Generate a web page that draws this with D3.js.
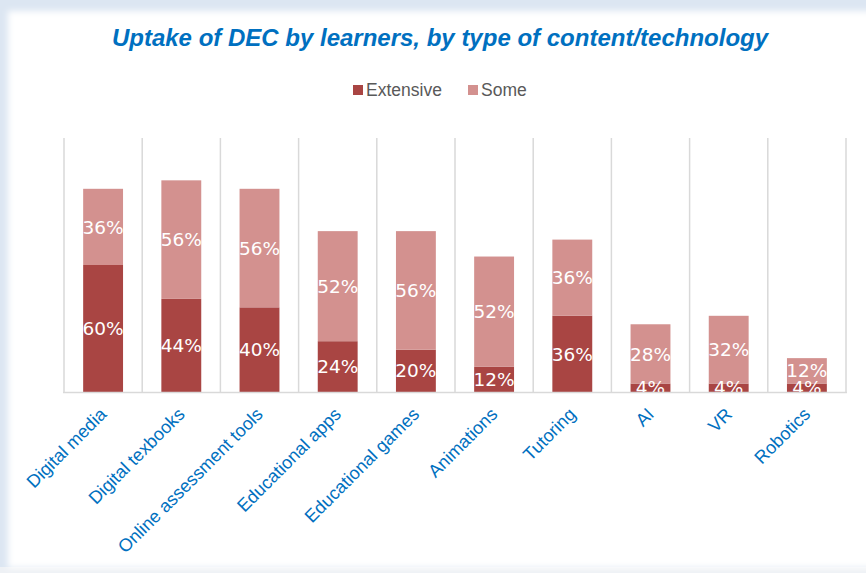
<!DOCTYPE html>
<html>
<head>
<meta charset="utf-8">
<script src="https://cdn.jsdelivr.net/npm/d3@7"></script>
<style>
  html, body { margin: 0; padding: 0; background: #dce6f2; }
  svg { display: block; }
</style>
</head>
<body>
<svg id="chart" width="866" height="573"></svg>
<script>
// Categories and shares of learners (%)
const categories = ["Digital media", "Digital texbooks", "Online assessment tools", "Educational apps",
  "Educational games", "Animations", "Tutoring", "AI", "VR", "Robotics"];
const extensive = [60, 44, 40, 24, 20, 12, 36, 4, 4, 4];
const some = [36, 56, 56, 52, 56, 52, 36, 28, 32, 12];
const seriesNames = ["Extensive", "Some"];
const seriesColors = ["#a94543", "#d3918f"];

const W = 866, H = 573;
const svg = d3.select("#chart");
const defs = svg.append("defs");

// Card background with soft edges
defs.append("filter").attr("id", "soft").attr("x", "-5%").attr("y", "-5%").attr("width", "110%").attr("height", "110%")
  .append("feGaussianBlur").attr("stdDeviation", 3);
svg.append("rect").attr("width", W).attr("height", H).attr("fill", "#dce6f2");
svg.append("rect").attr("x", 0).attr("y", H - 6).attr("width", W).attr("height", 6).attr("fill", "#eef1f5");
svg.append("rect").attr("x", 8).attr("y", 11).attr("width", W + 20).attr("height", H - 16)
  .attr("fill", "#ffffff").attr("filter", "url(#soft)");

const plot = { left: 64, right: 846, top: 138, bottom: 392 };

const x = d3.scaleBand().domain(categories).range([plot.left, plot.right]).paddingInner(0).paddingOuter(0);
const y = d3.scaleLinear().domain([0, 120]).range([plot.bottom, plot.top]);

// Title
svg.append("text")
  .attr("x", 440).attr("y", 46)
  .attr("text-anchor", "middle")
  .style("font-family", "'Liberation Sans', Arial, sans-serif")
  .style("font-size", "24px").style("font-weight", "bold").style("font-style", "italic")
  .attr("fill", "#0070c0")
  .text("Uptake of DEC by learners, by type of content/technology");

// Legend
const legendItems = [
  { name: seriesNames[0], color: seriesColors[0], x: 353 },
  { name: seriesNames[1], color: seriesColors[1], x: 468 }
];
const lg = svg.append("g").selectAll("g").data(legendItems).join("g")
  .attr("transform", d => `translate(${d.x},85)`);
lg.append("rect").attr("width", 10).attr("height", 10).attr("fill", d => d.color);
lg.append("text").attr("x", 13).attr("y", 11)
  .style("font-family", "'Liberation Sans', Arial, sans-serif").style("font-size", "17.5px")
  .attr("fill", "#595959").text(d => d.name);

// Vertical gridlines at category boundaries
const bounds = categories.map(c => x(c)).concat([plot.right]);
svg.append("g").selectAll("line").data(bounds).join("line")
  .attr("x1", d => d).attr("x2", d => d)
  .attr("y1", plot.top).attr("y2", plot.bottom)
  .attr("stroke", "#d9d9d9").attr("stroke-width", 1.5);

// Stacked bars
const rows = categories.map((c, i) => ({ cat: c, Extensive: extensive[i], Some: some[i] }));
const stacked = d3.stack().keys(seriesNames)(rows);

defs.append("clipPath").attr("id", "plotClip").append("rect")
  .attr("x", plot.left).attr("y", plot.top - 20)
  .attr("width", plot.right - plot.left).attr("height", plot.bottom - plot.top + 20);

const barW = x.bandwidth() * 0.51;
const layers = svg.append("g").attr("clip-path", "url(#plotClip)")
  .selectAll("g").data(stacked).join("g")
  .attr("fill", (d, i) => seriesColors[i]);

layers.selectAll("rect").data(d => d).join("rect")
  .attr("x", d => x(d.data.cat) + (x.bandwidth() - barW) / 2)
  .attr("width", barW)
  .attr("y", d => y(d[1]))
  .attr("height", d => y(d[0]) - y(d[1]));

// Value labels in each segment
const labelsG = svg.append("g").attr("clip-path", "url(#plotClip)");
stacked.forEach(layer => {
  labelsG.selectAll(null).data(layer).join("text")
    .attr("x", d => x(d.data.cat) + x.bandwidth() / 2)
    .attr("y", d => (y(d[0]) + y(d[1])) / 2)
    .attr("dy", "0.36em")
    .attr("text-anchor", "middle")
    .style("font-family", "'DejaVu Sans', Verdana, sans-serif")
    .style("font-size", "18.5px")
    .attr("fill", "#ffffff")
    .text(d => (d[1] - d[0]) + "%");
});

// Bottom axis line
svg.append("line")
  .attr("x1", plot.left - 1).attr("x2", plot.right + 1)
  .attr("y1", plot.bottom + 0.5).attr("y2", plot.bottom + 0.5)
  .attr("stroke", "#d9d9d9").attr("stroke-width", 1.5);

// Category labels, rotated
svg.append("g").selectAll("text").data(categories).join("text")
  .attr("transform", d => `translate(${x(d) + x.bandwidth() / 2},${plot.bottom + 19}) rotate(-45)`)
  .attr("text-anchor", "end")
  .attr("dy", "0.35em")
  .style("font-family", "'Liberation Sans', Arial, sans-serif")
  .style("font-size", "18px")
  .attr("fill", "#0070c0")
  .text(d => d);
</script>
</body>
</html>
